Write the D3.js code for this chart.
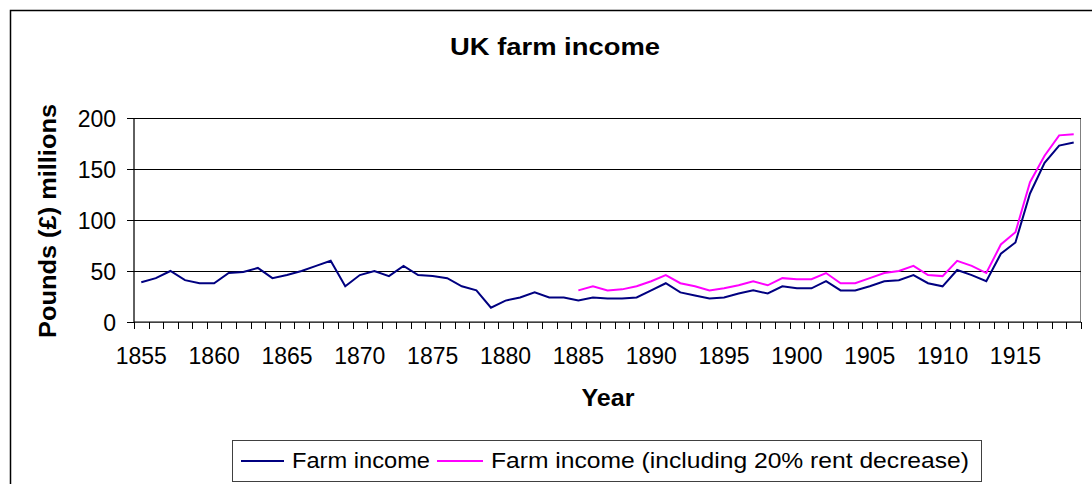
<!DOCTYPE html>
<html>
<head>
<meta charset="utf-8">
<script src="https://cdn.jsdelivr.net/npm/d3@7"></script>
<style>
  html, body { margin: 0; padding: 0; background: #fff; }
  svg { display: block; }
  text { font-family: "Liberation Sans", Arial, sans-serif; fill: #000; }
</style>
</head>
<body>
<svg id="chart" width="1092" height="484"></svg>
<script>
const years = [1855,1856,1857,1858,1859,1860,1861,1862,1863,1864,1865,1866,1867,1868,1869,1870,1871,1872,1873,1874,1875,1876,1877,1878,1879,1880,1881,1882,1883,1884,1885,1886,1887,1888,1889,1890,1891,1892,1893,1894,1895,1896,1897,1898,1899,1900,1901,1902,1903,1904,1905,1906,1907,1908,1909,1910,1911,1912,1913,1914,1915,1916,1917,1918,1919];
const farmIncome = [39,43,50,41,38,38,48,49,53,43,46,50,55,60,35,46,50,45,55,46,45,43,35,31,14,21,24,29,24,24,21,24,23,23,24,31,38,29,26,23,24,28,31,28,35,33,33,40,31,31,35,40,41,46,38,35,51,46,40,67,78,126,156,173,176];
const farmIncomeRent = [null,null,null,null,null,null,null,null,null,null,null,null,null,null,null,null,null,null,null,null,null,null,null,null,null,null,null,null,null,null,31,35,31,32,35,40,46,38,35,31,33,36,40,36,43,42,42,48,38,38,43,48,50,55,46,45,60,55,48,76,88,137,163,183,184];
const xTickLabels = [1855,1860,1865,1870,1875,1880,1885,1890,1895,1900,1905,1910,1915];
const yTickValues = [0,50,100,150,200];
const seriesNames = ["Farm income", "Farm income (including 20% rent decrease)"];

const svg = d3.select("#chart");
const pL = 134, pR = 1081, pT = 118, pB = 322;

// outer chart border
svg.append("rect").attr("x", 10.5).attr("y", 10.5).attr("width", 1100).attr("height", 500)
  .attr("fill", "#fff").attr("stroke", "#000").attr("stroke-width", 1.5);

const x = d3.scaleBand().domain(years).range([pL, pR]).padding(0);
const y = d3.scaleLinear().domain([0, 200]).range([pB, pT]);
const cx = d => x(d) + x.bandwidth() / 2;

// plot area border
svg.append("rect").attr("x", pL).attr("y", pT + 0.5).attr("width", pR - pL - 0.5).attr("height", pB - pT)
  .attr("fill", "none").attr("stroke", "#808080").attr("stroke-width", 1);

// gridlines
const grid = svg.append("g").attr("transform", `translate(${pL},0)`)
  .call(d3.axisLeft(y).tickValues(yTickValues.filter(v => v > 0)).tickSize(-(pR - pL)).tickFormat(""));
grid.select(".domain").remove();
grid.selectAll("line").attr("stroke", "#000").attr("stroke-width", 1);

// y axis
const yAxis = svg.append("g").attr("transform", `translate(${pL},0)`)
  .call(d3.axisLeft(y).tickValues(yTickValues).tickSize(7).tickPadding(11));
yAxis.select(".domain").attr("stroke", "#000").attr("d", `M0,${pT}V${pB}`);
yAxis.selectAll("line").attr("stroke", "#000");
yAxis.selectAll("text").style("font-size", "23px").attr("dy", "0.36em");

// x axis (labels)
const xAxis = svg.append("g").attr("transform", `translate(0,${pB})`)
  .call(d3.axisBottom(x).tickValues(xTickLabels).tickSize(0));
xAxis.select(".domain").attr("stroke", "#000").attr("d", `M${pL},0H${pR}`);
xAxis.selectAll("text").style("font-size", "23px").attr("dy", "0.71em").attr("y", 26);
// tick marks at category boundaries
const bounds = years.map(d => x(d)).concat([x(years[years.length - 1]) + x.bandwidth()]);
svg.append("g").selectAll("line").data(bounds).join("line")
  .attr("x1", d => Math.round(d) + 0.5).attr("x2", d => Math.round(d) + 0.5)
  .attr("y1", pB).attr("y2", pB + 7)
  .attr("stroke", "#000").attr("stroke-width", 1);

// lines
const line = d3.line().defined(d => d[1] != null).x(d => cx(d[0])).y(d => y(d[1]));
svg.append("path").datum(years.map((yr, i) => [yr, farmIncome[i]]))
  .attr("d", line).attr("fill", "none").attr("stroke", "#000080").attr("stroke-width", 2);
svg.append("path").datum(years.map((yr, i) => [yr, farmIncomeRent[i]]))
  .attr("d", line).attr("fill", "none").attr("stroke", "#FF00FF").attr("stroke-width", 2);

// title
svg.append("text").attr("x", 555).attr("y", 55).attr("text-anchor", "middle")
  .style("font-size", "24px").style("font-weight", "bold")
  .attr("textLength", 210).attr("lengthAdjust", "spacingAndGlyphs").text("UK farm income");

// axis titles
svg.append("text").attr("x", 608).attr("y", 406).attr("text-anchor", "middle")
  .style("font-size", "23px").style("font-weight", "bold")
  .attr("textLength", 53).attr("lengthAdjust", "spacingAndGlyphs").text("Year");
svg.append("text").attr("transform", "translate(56,221) rotate(-90)").attr("text-anchor", "middle")
  .style("font-size", "23px").style("font-weight", "bold")
  .attr("textLength", 234).attr("lengthAdjust", "spacingAndGlyphs").text("Pounds (£) millions");

// legend
const lg = svg.append("g");
lg.append("rect").attr("x", 232.5).attr("y", 440.5).attr("width", 749).attr("height", 41)
  .attr("fill", "#fff").attr("stroke", "#404040").attr("stroke-width", 1);
const legendItems = [
  {name: seriesNames[0], color: "#000080", x1: 241, x2: 284, tx: 292, tl: 138},
  {name: seriesNames[1], color: "#FF00FF", x1: 437, x2: 483, tx: 491, tl: 478}
];
legendItems.forEach(it => {
  lg.append("line").attr("x1", it.x1).attr("x2", it.x2).attr("y1", 461).attr("y2", 461)
    .attr("stroke", it.color).attr("stroke-width", 2);
  lg.append("text").attr("x", it.tx).attr("y", 468).style("font-size", "22px")
    .attr("textLength", it.tl).attr("lengthAdjust", "spacingAndGlyphs").text(it.name);
});
</script>
</body>
</html>
